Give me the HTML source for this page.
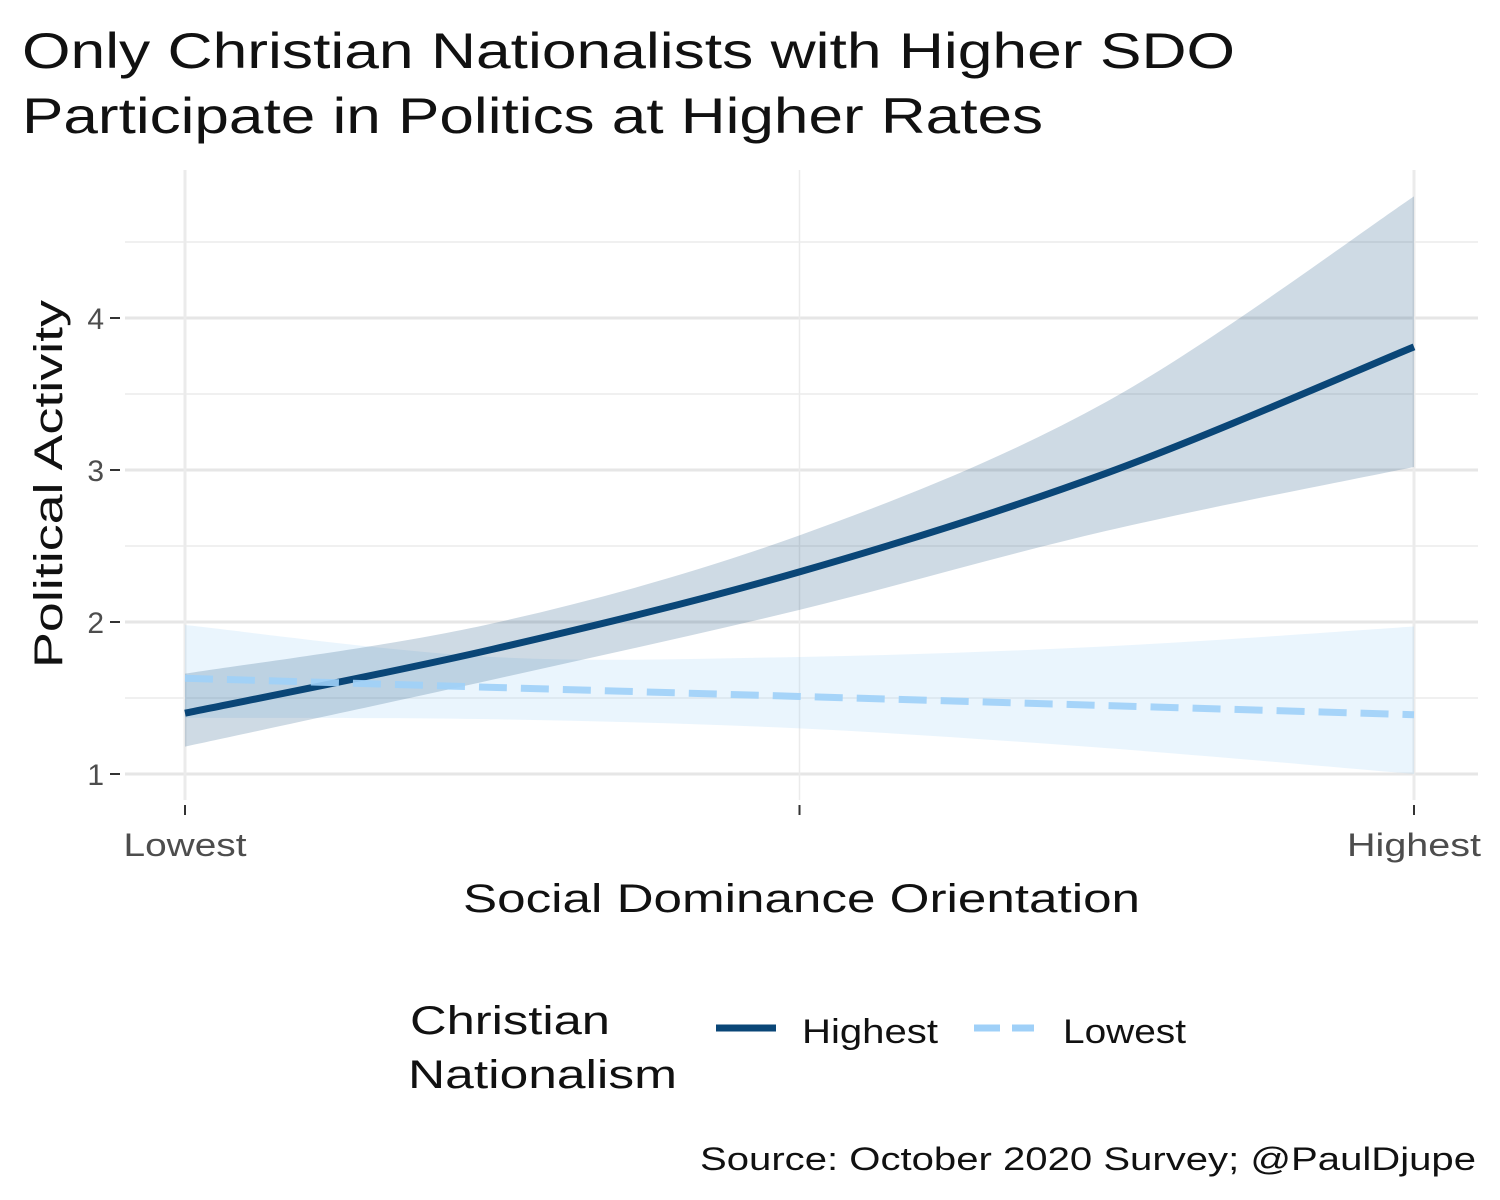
<!DOCTYPE html>
<html><head><meta charset="utf-8">
<style>
html,body{margin:0;padding:0;background:#fff;}
svg{display:block;font-family:"Liberation Sans",sans-serif;}
</style></head>
<body>
<svg id="chart" width="1500" height="1200">
<text x="22" y="68" font-size="50" fill="#111" textLength="1213" lengthAdjust="spacingAndGlyphs">Only Christian Nationalists with Higher SDO</text>
<text x="22" y="133" font-size="50" fill="#111" textLength="1021" lengthAdjust="spacingAndGlyphs">Participate in Politics at Higher Rates</text>
<g id="grid"></g>
<g id="marks"></g>
<g id="axes"></g>
<text x="463" y="912" font-size="40" fill="#111" textLength="677" lengthAdjust="spacingAndGlyphs">Social Dominance Orientation</text>
<text transform="translate(62,668) rotate(-90)" font-size="40" fill="#111" textLength="368" lengthAdjust="spacingAndGlyphs">Political Activity</text>
<g>
<text x="410" y="1034" font-size="40" fill="#111" textLength="200" lengthAdjust="spacingAndGlyphs">Christian</text>
<text x="408" y="1088" font-size="40" fill="#111" textLength="269" lengthAdjust="spacingAndGlyphs">Nationalism</text>
<g>
<line x1="716" y1="1028" x2="776" y2="1028" stroke="#0a4677" stroke-width="7"/>
<text x="802" y="1043" font-size="34" fill="#111" textLength="136" lengthAdjust="spacingAndGlyphs">Highest</text></g>
<g>
<line x1="974" y1="1028" x2="1034" y2="1028" stroke="#9fd0f8" stroke-width="7" stroke-dasharray="26,12"/>
<text x="1063" y="1043" font-size="34" fill="#111" textLength="123" lengthAdjust="spacingAndGlyphs">Lowest</text></g>
</g>
<text x="700" y="1170" font-size="32" fill="#111" textLength="776" lengthAdjust="spacingAndGlyphs">Source: October 2020 Survey; @PaulDjupe</text>
</svg>
<script>
const xs = [0, 0.25, 0.5, 0.75, 1];
const highFit = [1.40, 1.82, 2.33, 2.98, 3.81];
const highLow = [1.18, 1.62, 2.08, 2.60, 3.02];
const highUp = [1.66, 1.99, 2.57, 3.45, 4.80];
const lowFit = [1.63, 1.57, 1.51, 1.45, 1.39];
const lowLow = [1.37, 1.36, 1.30, 1.17, 1.00];
const lowUp = [1.98, 1.77, 1.77, 1.84, 1.97];
const yTicks = [1, 2, 3, 4];
const xTickLabels = ["Lowest", "Highest"];

const NS = "http://www.w3.org/2000/svg";
const X = t => 185 + t * (1414 - 185);
const Y = v => 774 - (v - 1) * 152;
function mk(tag, attrs, parent){const e=document.createElementNS(NS,tag);for(const k in attrs)e.setAttribute(k,attrs[k]);parent.appendChild(e);return e;}
const grid=document.getElementById('grid'), marks=document.getElementById('marks'), axes=document.getElementById('axes');
[1.5,2.5,3.5,4.5].forEach(v=>{const l=mk('line',{x1:125,x2:1478,y1:Y(v),y2:Y(v),stroke:'#ebebeb','stroke-width':1.5},grid);

});
yTicks.forEach(v=>{const l=mk('line',{x1:125,x2:1478,y1:Y(v),y2:Y(v),stroke:'#e6e6e6','stroke-width':3},grid);


const tk=mk('line',{x1:110,x2:120,y1:Y(v),y2:Y(v),stroke:'#333','stroke-width':2},axes);


const t=mk('text',{x:104,y:Y(v)+11,'font-size':30,'text-anchor':'end',fill:'#4d4d4d'},axes);t.textContent=v;

});
[0,0.5,1].forEach(t=>{const l=mk('line',{x1:X(t),x2:X(t),y1:170,y2:800,stroke:'#ebebeb','stroke-width':t===0.5?1.5:3},grid);


const tk=mk('line',{x1:X(t),x2:X(t),y1:805,y2:815,stroke:'#333','stroke-width':2},axes);

});
xTickLabels.forEach((s,i)=>{const t=mk('text',{x:X(i),y:856,'font-size':32,'text-anchor':'middle',fill:'#4d4d4d',textLength:i?134:123,lengthAdjust:'spacingAndGlyphs'},axes);t.textContent=s;

});
function pts(arr){return xs.map((t,i)=>[X(t),Y(arr[i])]);}
function curve(p,start){let d=start?`M${p[0][0]},${p[0][1]}`:`L${p[0][0]},${p[0][1]}`;
for(let i=0;i<p.length-1;i++){const p0=p[Math.max(i-1,0)],p1=p[i],p2=p[i+1],p3=p[Math.min(i+2,p.length-1)];
d+=` C${p1[0]+(p2[0]-p0[0])/6},${p1[1]+(p2[1]-p0[1])/6} ${p2[0]-(p3[0]-p1[0])/6},${p2[1]-(p3[1]-p1[1])/6} ${p2[0]},${p2[1]}`;}return d;}
function ribbon(lo,up,fill,name){const d=curve(pts(up),true)+' '+curve(pts(lo).reverse(),false)+'Z';
const p=mk('path',{d:d,fill:fill},marks);

}
ribbon(lowLow,lowUp,'rgba(159,208,248,0.22)','ribbon-lowest');
ribbon(highLow,highUp,'rgba(10,70,119,0.2)','ribbon-highest');
const l1=mk('path',{d:curve(pts(highFit),true),fill:'none',stroke:'#0a4677','stroke-width':7},marks);


const l2=mk('path',{d:curve(pts(lowFit),true),fill:'none',stroke:'#9fd0f8','stroke-width':7,'stroke-dasharray':'28,14','stroke-opacity':0.9},marks);


</script>
</body></html>
